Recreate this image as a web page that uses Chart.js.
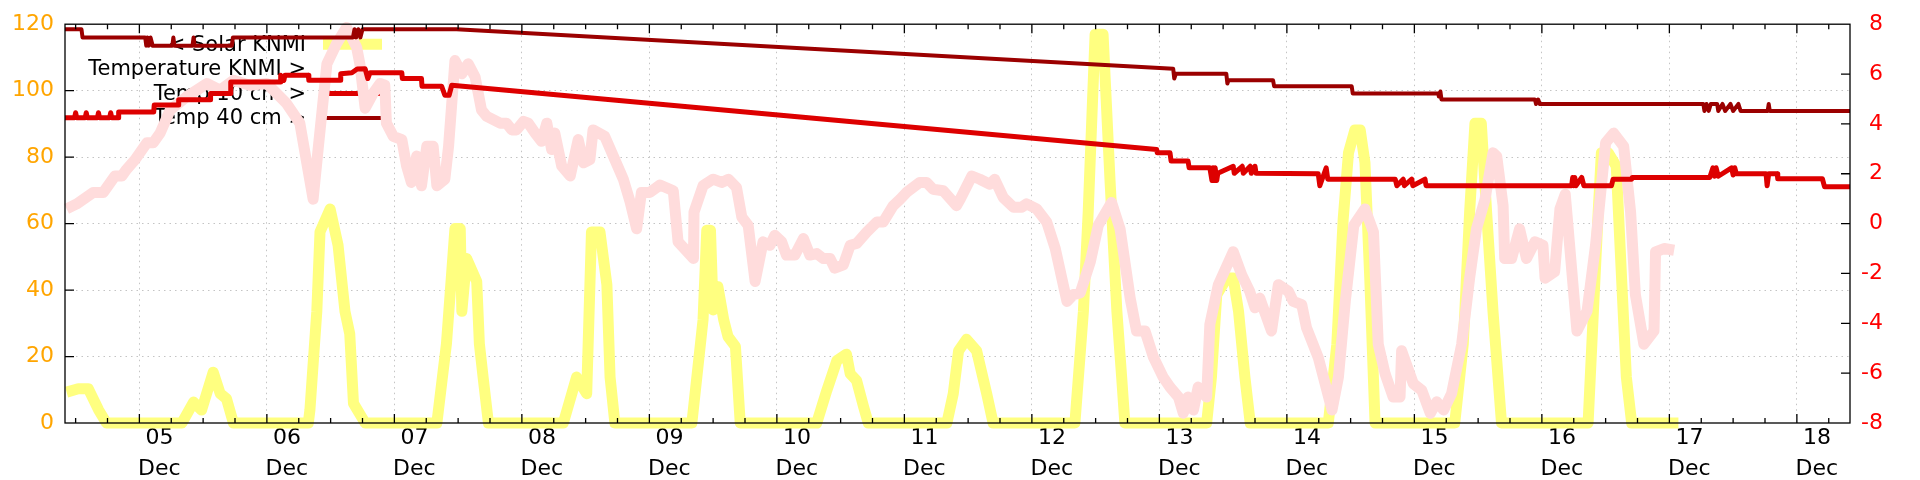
<!DOCTYPE html>
<html>
<head>
<meta charset="utf-8">
<title>KNMI soil temperature</title>
<script src="https://cdn.jsdelivr.net/npm/chart.js@4.4.1/dist/chart.umd.min.js"></script>
<style>
  html, body { margin: 0; padding: 0; background: #fff; }
  #wrap { width: 1920px; height: 480px; position: relative; }
</style>
</head>
<body>
<div id="wrap"><canvas id="knmiChart"></canvas></div>
<script>
// time is in hours counted from 4 Dec 00:00
const dayLabels = ['05', '06', '07', '08', '09', '10', '11', '12', '13', '14', '15', '16', '17', '18'];
const monthLabel = 'Dec';

// Solar KNMI (left axis)
const solarHours = [
  10.3, 12.5, 14.4, 16.3, 17.8,
  32.0, 34.2, 35.7, 37.9, 39.2, 40.4, 41.7,
  55.8, 56.1, 57.4, 58.0, 59.9, 61.4, 62.7, 63.6, 64.3, 66.5,
  80.0, 81.8, 83.4, 84.4, 84.7, 85.6, 87.5, 88.0, 88.7, 89.7,
  103.8, 106.3, 108.2, 109.1, 110.7, 112.0, 112.6, 113.5,
  128.0, 130.1, 130.8, 131.5, 132.0, 132.9, 134.0, 134.8, 136.2, 137.1,
  151.5, 153.4, 155.3, 157.1, 157.8, 159.0, 160.3, 161.2,
  176.0, 177.2, 178.2, 179.7, 181.6, 183.5, 184.7,
  200.1, 201.7, 202.6, 203.9, 205.4, 206.7, 208.0, 208.9, 209.5,
  224.9, 225.8, 226.8, 228.7, 229.9, 230.9, 232.1, 233.1,
  247.8, 249.4, 250.6, 251.6, 252.8, 253.8, 254.7, 255.6, 256.6,
  271.6, 273.2, 274.4, 275.4, 276.6, 277.6, 278.8, 280.4,
  296.7, 297.7, 298.6, 299.2, 300.5, 302.0, 303.0, 303.9, 304.9,
  313.7
];
const solarValues = [
  9.3, 10.3, 10.3, 4.0, 0,
  0, 6.3, 3.9, 15.3, 8.9, 7.3, 0,
  0, 3.9, 33.6, 57.5, 64.4, 53.5, 33.6, 26.8, 5.9, 0,
  0, 23.8, 58.5, 58.5, 33.6, 49.5, 42.6, 23.8, 13.8, 0,
  0, 13.8, 8.8, 57.5, 57.5, 41.6, 13.8, 0,
  0, 31, 58, 58, 34, 41, 31, 26, 23, 0,
  0, 9.8, 18.8, 20.7, 14.8, 12.8, 5.0, 0,
  0, 8.8, 21.7, 25.2, 21.7, 8.8, 0,
  0, 33.6, 63.4, 117, 117, 73.3, 33.6, 13.8, 0,
  0, 13.8, 38.6, 43.6, 43.6, 33.6, 13.8, 0,
  0, 23.7, 61.4, 81.3, 88.2, 88.2, 78.3, 43.6, 0,
  0, 23.7, 63.4, 90.2, 90.2, 63.4, 33.6, 0,
  0, 33.6, 63.4, 81.3, 81.3, 77.3, 43.6, 13.8, 0,
  0
];

// Temperature KNMI (right axis)
const airHours = [
  10.3, 12.2, 15.3, 17.2, 19.4, 20.7, 21.6, 23.2, 25.4, 26.6, 27.9, 29.8, 32.9, 34.8, 36.7, 39.2,
  41.7, 44.8, 48.0, 51.7, 54.2, 56.7, 57.7, 59.3, 61.1, 63.0, 64.9,
  65.5, 66.5, 68.0, 69.3, 70.2, 70.5, 71.8, 73.4, 74.3, 75.2, 76.2, 77.1, 78.1, 79.3, 80.0, 81.5,
  82.2, 83.4, 84.7, 85.9, 87.2, 88.4, 89.4, 91.9, 93.1, 94.1, 95.0, 96.3, 97.2, 98.5, 99.7, 100.7,
  101.6, 102.2, 103.5, 105.1, 106.6, 107.6, 108.8, 109.4, 111.6, 113.2, 115.1, 116.4, 117.6, 118.5,
  120.1, 122.0,
  124.5, 125.4, 128.3, 128.4, 130.1, 132.0, 133.6, 134.9, 136.4, 137.4, 138.6, 139.9, 141.4, 142.7,
  143.6, 144.9, 145.8, 147.4, 149.0, 150.2, 151.5, 152.7, 154.0, 154.9, 156.5, 157.8, 159.0, 160.9,
  162.8, 164.0, 165.9, 167.2, 168.4, 170.9, 172.2, 173.4, 175.3, 177.8,
  178.5, 180.7, 182.2, 184.1, 185.0, 186.6, 188.5, 190.1, 191.0, 192.9, 194.8, 196.4, 197.9, 198.6,
  199.8, 201.1, 203.0, 204.5, 207.0, 208.6, 210.5, 211.7, 213.3, 214.9, 216.7, 218.0, 219.6, 220.5,
  221.4, 222.4, 223.3, 224.9, 225.5, 227.1, 229.9, 231.5, 233.0, 234.0,
  234.9, 237.1, 238.4, 240.3, 241.2, 242.8, 243.7, 245.9, 248.5, 249.7, 251.0, 252.6, 254.7, 256.3,
  257.2, 258.5, 260.0, 261.3, 261.6, 263.8, 265.4, 267.0, 268.2, 269.5, 271.0, 272.9, 274.4, 275.7,
  277.3, 278.8, 279.5, 280.7, 281.0, 282.3, 283.8, 285.1, 286.7, 288.2, 288.6, 290.4, 291.4,
  292.4, 294.6, 296.5, 298.1, 300.0, 301.5, 303.4, 304.7, 305.6, 307.2, 309.1, 309.4, 311.0, 312.9
];
const airValues = [
  0.59, 0.79, 1.25, 1.25, 1.91, 1.91, 2.18, 2.57, 3.24, 3.24, 3.63, 4.56, 5.09, 5.35, 5.62, 5.35,
  5.75, 5.55, 5.62, 4.82, 4.03, 0.98, 3.1, 6.41, 7.21, 7.87, 7.07,
  6.41, 4.63, 5.22, 5.62, 5.55, 4.03, 3.5, 3.37, 2.31, 1.65, 2.71, 1.52, 3.1, 3.1, 1.52, 1.78,
  3.1, 6.54, 6.01, 6.41, 5.88, 4.56, 4.3, 4.03, 4.03, 3.76, 3.76, 4.1, 4.03, 3.63, 3.3, 4.03,
  2.97, 3.63, 2.31, 1.91, 3.37, 2.44, 2.57, 3.76, 3.5, 2.71, 1.78, 0.85, -0.21, 1.25,
  1.25, 1.55,
  1.32, -0.73, -1.4, 0.46, 1.52, 1.78, 1.65, 1.78, 1.45, 0.26, -0.07, -2.32, -0.73, -0.87,
  -0.47, -0.73, -1.26, -1.26, -0.6, -1.26, -1.2, -1.4, -1.4, -1.79, -1.66, -0.87, -0.8, -0.34,
  0.06, 0.06, 0.72, 0.98, 1.25, 1.65, 1.65, 1.38, 1.32, 0.72,
  0.98, 1.91, 1.78, 1.58, 1.78, 1.05, 0.66, 0.66, 0.79, 0.59, 0.06, -1.0, -2.45, -3.12,
  -2.85, -2.78, -1.53, -0.07, 0.85, -0.21, -2.99, -4.31, -4.31, -5.37, -6.16, -6.56, -6.96, -7.61,
  -6.96, -7.48, -6.56, -6.96, -4.04, -2.45, -1.13, -2.06, -2.72, -3.38,
  -2.99, -4.31, -2.45, -2.72, -3.12, -3.25, -4.18, -5.37, -7.48, -6.16, -3.12, -0.07, 0.59, -0.34,
  -4.84, -6.03, -6.96, -6.96, -5.1, -6.42, -6.69, -7.61, -7.15, -7.48, -6.82, -4.84, -2.19, -0.21,
  0.98, 2.84, 2.7, 0.72, -1.4, -1.4, -0.21, -1.4, -0.73, -0.87, -2.19, -1.93, 0.59,
  1.18, -4.31, -3.51, -0.87, 3.24, 3.63, 3.1, 0.46, -2.85, -4.84, -4.31, -1.13, -1.0, -1.07
];

// Temp 10 cm (right axis)
const temp10Hours = [
  10.0, 11.8, 12.0, 12.2, 13.8, 14.0, 14.2, 16.1, 16.3, 16.5, 18.4, 18.6, 18.8, 20.0, 20.1,
  26.7, 26.8, 31.3, 31.4, 37.3, 37.4, 41.1, 41.2, 50.5, 50.6, 51.2, 51.4, 55.8, 55.9,
  61.8, 61.9, 64.0, 65.0, 66.5, 67.0, 67.4, 73.4, 73.5, 77.1, 77.2, 80.9, 81.5, 82.3, 82.8,
  215.5, 215.6, 218.0, 218.2, 221.4, 221.6, 225.5, 225.9, 226.1, 226.3, 226.5, 226.8, 227.0,
  229.9, 230.1, 231.6, 231.8, 233.1, 233.3, 234.0, 234.2, 245.9, 246.2, 247.4, 247.7,
  260.4, 260.7, 261.9, 262.1, 263.5, 263.7, 266.0, 266.2,
  293.6, 293.8, 294.0, 294.2, 294.4, 295.5, 295.9, 301.1, 301.4, 304.9, 305.0,
  319.6, 320.2, 320.5, 320.8, 321.2, 323.7, 324.0, 324.3, 324.6, 330.2, 330.4, 330.7,
  332.3, 332.4, 340.8, 341.2, 346.0
];
const temp10Values = [
  4.25, 4.25, 4.45, 4.25, 4.25, 4.45, 4.25, 4.25, 4.45, 4.25, 4.25, 4.45, 4.25, 4.25, 4.48,
  4.48, 4.76, 4.76, 4.97, 4.97, 5.22, 5.22, 5.68, 5.68, 5.95, 5.75, 5.95, 5.95, 5.75,
  5.75, 6.01, 6.05, 6.2, 6.21, 5.82, 6.05, 6.05, 5.82, 5.82, 5.51, 5.51, 5.15, 5.15, 5.55,
  2.97, 2.84, 2.84, 2.51, 2.51, 2.24, 2.24, 1.73, 2.24, 1.73, 2.24, 1.73, 2.02,
  2.3, 2.02, 2.3, 2.02, 2.3, 2.02, 2.3, 2.02, 2.0, 1.52, 2.24, 1.78,
  1.78, 1.52, 1.78, 1.52, 1.78, 1.52, 1.78, 1.52,
  1.52, 1.85, 1.52, 1.85, 1.52, 1.85, 1.52, 1.52, 1.78, 1.78, 1.85,
  1.85, 2.24, 1.9, 2.24, 1.9, 2.24, 1.95, 2.24, 2.0, 2.0, 1.52, 2.0,
  2.0, 1.8, 1.8, 1.48, 1.48
];

// Temp 40 cm (right axis)
const temp40Hours = [
  10.0, 13.1, 13.3, 25.1, 25.3, 25.5, 25.8, 26.1, 26.5, 30.2, 30.4, 30.6, 34.0, 34.2, 34.4,
  41.4, 41.6, 64.2, 64.5, 64.8, 65.2, 65.6, 66.0, 83.7,
  218.6, 218.8, 219.1, 228.6, 228.8, 229.0, 237.4, 237.6, 252.2, 252.4,
  267.6, 268.5, 268.6, 268.9, 269.1, 286.7, 286.9, 287.3, 287.6,
  318.4, 318.6, 319.0, 319.4, 319.8, 321.0, 321.2, 322.0, 322.5, 323.5, 324.0, 325.0, 325.4,
  330.5, 330.7, 330.9, 346.0
];
const temp40Values = [
  7.8, 7.8, 7.47, 7.47, 7.14, 7.47, 7.14, 7.47, 7.14, 7.14, 7.47, 7.14, 7.14, 7.47, 7.14,
  7.14, 7.47, 7.47, 7.8, 7.47, 7.8, 7.47, 7.8, 7.8,
  6.21, 5.82, 6.01, 6.01, 5.62, 5.75, 5.75, 5.51, 5.51, 5.22,
  5.22, 5.22, 5.1, 5.3, 4.98, 4.98, 4.8, 4.98, 4.8,
  4.8, 4.52, 4.8, 4.52, 4.8, 4.8, 4.52, 4.8, 4.52, 4.8, 4.52, 4.8, 4.52,
  4.52, 4.8, 4.52, 4.52
];

const keyLabels = ['< Solar KNMI', 'Temperature KNMI >', 'Temp 10 cm >', 'Temp 40 cm >'];

const gridColor = '#c4c4c4';
const fontFamily = '"DejaVu Sans", sans-serif';

const xTickHours = [];
for (let h = 12; h <= 342; h += 6) xTickHours.push(h);

function toPoints(hours, values) {
    return hours.map((h, i) => ({ x: h, y: values[i] }));
}

// gnuplot style frame: key under the data, border and inward tics on top
const gnuplotFrame = {
    id: 'gnuplotFrame',
    beforeDatasetsDraw(chart) {
        const { ctx, chartArea: a } = chart;
        ctx.save();
        ctx.font = '21px ' + fontFamily;
        ctx.textAlign = 'right';
        ctx.textBaseline = 'middle';
        ctx.fillStyle = '#000';
        chart.data.datasets.forEach((ds, i) => {
            const y = a.top + 21 + i * 24.6;
            ctx.fillText(keyLabels[i], a.left + 241, y);
            if (ds.keySample) {
                ctx.strokeStyle = ds.borderColor;
                ctx.lineWidth = ds.borderWidth;
                ctx.beginPath();
                ctx.moveTo(a.left + 258, y - 1);
                ctx.lineTo(a.left + 317, y - 1);
                ctx.stroke();
            }
        });
        ctx.restore();
    },
    afterDatasetsDraw(chart) {
        const { ctx, chartArea: a, scales } = chart;
        ctx.save();
        ctx.strokeStyle = '#000';
        ctx.lineWidth = 1.3;
        ctx.beginPath();
        scales.x.ticks.forEach((t) => {
            const px = scales.x.getPixelForValue(t.value);
            const len = t.value % 24 === 0 ? 9 : 5;
            ctx.moveTo(px, a.bottom);
            ctx.lineTo(px, a.bottom - len);
            ctx.moveTo(px, a.top);
            ctx.lineTo(px, a.top + len);
        });
        scales.y.ticks.forEach((t) => {
            if (t.value <= 0 || t.value >= 120) return;
            const py = scales.y.getPixelForValue(t.value);
            ctx.moveTo(a.left, py);
            ctx.lineTo(a.left + 9, py);
        });
        scales.y2.ticks.forEach((t) => {
            if (t.value <= -8 || t.value >= 8) return;
            const py = scales.y2.getPixelForValue(t.value);
            ctx.moveTo(a.right, py);
            ctx.lineTo(a.right - 9, py);
        });
        ctx.stroke();
        ctx.strokeRect(a.left, a.top, a.right - a.left, a.bottom - a.top);
        ctx.restore();
    }
};

const ctx = document.getElementById('knmiChart').getContext('2d');
const chart = new Chart(ctx, {
    type: 'line',
    data: {
        datasets: [
            {
                label: 'Solar KNMI',
                data: toPoints(solarHours, solarValues),
                yAxisID: 'y',
                borderColor: '#ffff80',
                borderWidth: 11,
                keySample: true,
                order: 4
            },
            {
                label: 'Temperature KNMI',
                data: toPoints(airHours, airValues),
                yAxisID: 'y2',
                borderColor: '#ffdcdc',
                borderWidth: 11,
                keySample: false,
                order: 3
            },
            {
                label: 'Temp 10 cm',
                data: toPoints(temp10Hours, temp10Values),
                yAxisID: 'y2',
                borderColor: '#dd0000',
                borderWidth: 5,
                keySample: true,
                order: 2
            },
            {
                label: 'Temp 40 cm',
                data: toPoints(temp40Hours, temp40Values),
                yAxisID: 'y2',
                borderColor: '#9b0000',
                borderWidth: 4,
                keySample: true,
                order: 1
            }
        ]
    },
    options: {
        responsive: true,
        maintainAspectRatio: false,
        animation: false,
        clip: false,
        layout: { padding: { left: 0, right: 37, top: 20, bottom: 0 } },
        elements: {
            point: { radius: 0 },
            line: { tension: 0, fill: false, borderJoinStyle: 'round', borderCapStyle: 'butt' }
        },
        datasets: { line: { clip: false } },
        plugins: {
            legend: { display: false },
            tooltip: { enabled: false }
        },
        scales: {
            x: {
                type: 'linear',
                min: 10,
                max: 346,
                afterBuildTicks: (scale) => {
                    scale.ticks = xTickHours.map((v) => ({ value: v }));
                },
                afterFit: (scale) => { scale.height = 57; },
                ticks: {
                    autoSkip: false,
                    maxRotation: 0,
                    minRotation: 0,
                    labelOffset: 20,
                    padding: 0,
                    color: '#000',
                    font: { family: fontFamily, size: 22, lineHeight: 1.4 },
                    callback: (v) => (v % 24 === 0 ? [dayLabels[v / 24 - 1], monthLabel] : '')
                },
                grid: {
                    drawTicks: false,
                    lineWidth: 1,
                    color: (c) => (c.tick && c.tick.value % 24 === 0 ? gridColor : 'rgba(0,0,0,0)')
                },
                border: { display: false, dash: [1.5, 4] }
            },
            y: {
                position: 'left',
                min: 0,
                max: 120,
                afterFit: (scale) => { scale.width = 65; },
                ticks: {
                    stepSize: 20,
                    padding: 11,
                    color: '#ffa500',
                    font: { family: fontFamily, size: 22 }
                },
                grid: {
                    drawTicks: false,
                    lineWidth: 1,
                    color: (c) => (c.tick && c.tick.value > 0 && c.tick.value < 120 ? gridColor : 'rgba(0,0,0,0)')
                },
                border: { display: false, dash: [1.5, 4] }
            },
            y2: {
                position: 'right',
                min: -8,
                max: 8,
                afterFit: (scale) => { scale.width = 33; },
                ticks: {
                    stepSize: 2,
                    crossAlign: 'far',
                    color: '#ff0000',
                    font: { family: fontFamily, size: 22 }
                },
                grid: { drawOnChartArea: false, drawTicks: false },
                border: { display: false }
            }
        }
    },
    plugins: [gnuplotFrame]
});
</script>
</body>
</html>
